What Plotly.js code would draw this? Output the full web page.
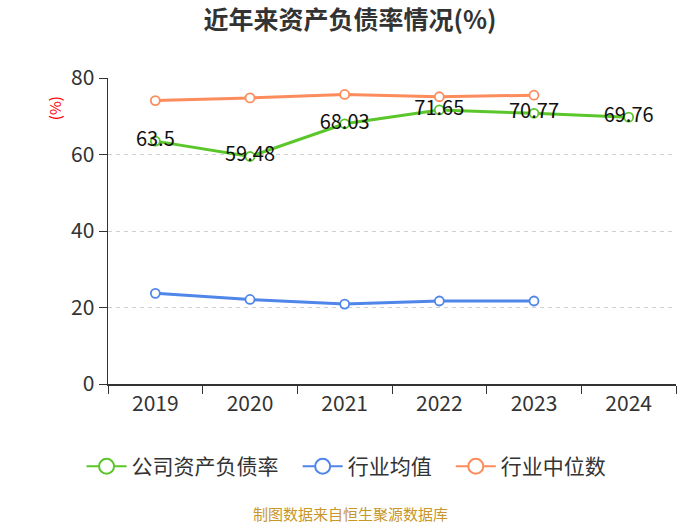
<!DOCTYPE html>
<html>
<head>
<meta charset="utf-8">
<script src="https://cdn.plot.ly/plotly-3.0.1.min.js"></script>
<style>html,body{margin:0;padding:0;background:#fff;}#chart{width:700px;height:525px;}</style>
</head>
<body>
<div id="chart"></div>
<script>
var years = ['2019', '2020', '2021', '2022', '2023', '2024'];
var companyRatio = [63.5, 59.48, 68.03, 71.65, 70.77, 69.76];
var industryMean = [23.7, 22.1, 20.9, 21.7, 21.7, null];
var industryMedian = [74.1, 74.8, 75.7, 75.1, 75.5, null];
var seriesNames = ['公司资产负债率', '行业均值', '行业中位数'];
var seriesColors = ['#5ac62a', '#4f86ea', '#fd8c5c'];
var yTicks = [0, 20, 40, 60, 80];

var FONT = '"Noto Sans CJK SC", "Noto Sans", sans-serif';
var PAD = '\u00a0\u00a0\u00a0';

function mk(idx, y, withText) {
  var color = seriesColors[idx];
  var t = {
    type: 'scatter',
    mode: withText ? 'lines+markers+text' : 'lines+markers',
    name: seriesNames[idx],
    x: years,
    y: y,
    line: {color: color, width: 3},
    marker: {symbol: 'circle', size: 9, color: '#ffffff', line: {color: color, width: 1.8}},
    cliponaxis: false,
    hoverinfo: 'none',
    showlegend: false
  };
  if (withText) {
    t.text = y.map(function (v) { return v == null ? '' : String(v); });
    t.textposition = 'middle center';
    t.textfont = {family: FONT, size: 20, color: '#111111'};
  }
  return t;
}

// legend-only entries (no data points), styled like the reference legend
function legendEntry(idx) {
  var color = seriesColors[idx];
  return {
    type: 'scatter',
    mode: 'lines+markers',
    name: seriesNames[idx] + (idx < 2 ? PAD : ''),
    x: [null],
    y: [null],
    line: {color: color, width: 2},
    marker: {symbol: 'circle', size: 15, color: '#ffffff', line: {color: color, width: 2}},
    hoverinfo: 'none',
    showlegend: true,
    legendrank: idx + 1
  };
}

var data = [
  mk(1, industryMean, false),
  mk(2, industryMedian, false),
  mk(0, companyRatio, true),
  legendEntry(0),
  legendEntry(1),
  legendEntry(2)
];

var layout = {
  width: 700,
  height: 525,
  margin: {l: 108, r: 24, t: 78, b: 141},
  paper_bgcolor: '#ffffff',
  plot_bgcolor: '#ffffff',
  font: {family: FONT, color: '#333333'},
  title: {
    text: '<b>近年来资产负债率情况(%)</b>',
    font: {family: FONT, size: 25, color: '#333333'},
    x: 0.5, xanchor: 'center',
    y: 0.962, yanchor: 'middle'
  },
  xaxis: {
    type: 'category',
    categoryorder: 'array',
    categoryarray: years,
    range: [-0.5, 5.5],
    tickson: 'boundaries',
    ticks: 'outside',
    ticklen: 8,
    tickcolor: '#333333',
    showline: true,
    linecolor: '#333333',
    linewidth: 1.5,
    showgrid: false,
    zeroline: false,
    tickfont: {family: FONT, size: 21, color: '#333333'},
    fixedrange: true
  },
  yaxis: {
    range: [0, 80],
    tickvals: yTicks,
    ticktext: yTicks.map(String),
    ticks: 'outside',
    ticklen: 8,
    tickcolor: '#333333',
    showline: true,
    linecolor: '#333333',
    linewidth: 1.5,
    showgrid: true,
    gridcolor: '#d0d0d0',
    griddash: '4px,4px',
    gridwidth: 1,
    zeroline: false,
    tickfont: {family: FONT, size: 21, color: '#333333'},
    fixedrange: true
  },
  showlegend: true,
  legend: {
    orientation: 'h',
    x: 0.42, xanchor: 'center',
    y: -0.27, yanchor: 'middle',
    font: {family: FONT, size: 21, color: '#333333'},
    traceorder: 'normal',
    itemwidth: 40
  },
  annotations: [
    {
      text: '(%)', xref: 'paper', yref: 'paper',
      x: -0.093, y: 0.902, xanchor: 'center', yanchor: 'middle',
      textangle: -90, showarrow: false,
      font: {family: FONT, size: 15, color: '#ff0000'}
    },
    {
      text: '制图数据来自恒生聚源数据库', xref: 'paper', yref: 'paper',
      x: 0.427, y: -0.422, xanchor: 'center', yanchor: 'middle',
      showarrow: false,
      font: {family: FONT, size: 15, color: '#c9962a'}
    }
  ]
};

Plotly.newPlot('chart', data, layout, {displayModeBar: false, staticPlot: true});
</script>
</body>
</html>
